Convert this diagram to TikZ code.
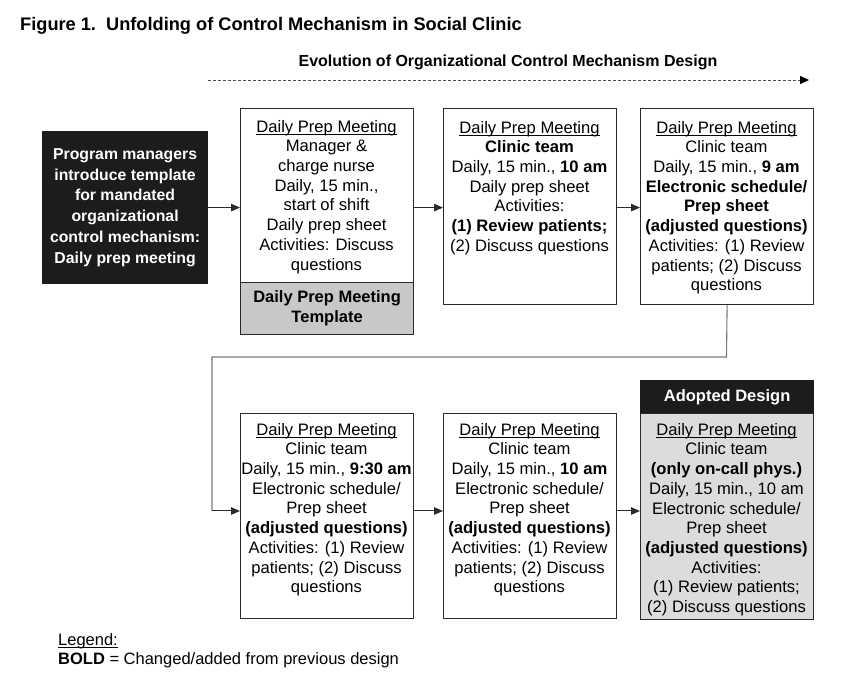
\documentclass[tikz,border=0pt]{standalone}
\usepackage{fontspec}
\setmainfont{Liberation Sans}
\usetikzlibrary{arrows.meta,calc}
\newcommand{\myul}[1]{\setbox0=\hbox{#1}\rlap{\rule[-2.6pt]{\wd0}{0.9pt}}\box0}
\newcommand{\topstrut}{\rule{0pt}{13pt}}
\definecolor{boxdark}{HTML}{1C1C1C}
\definecolor{tplgray}{HTML}{C8C8C8}
\definecolor{adoptgray}{HTML}{DCDCDC}
\definecolor{linegray}{HTML}{7A7A7A}
\definecolor{edge}{HTML}{2A2A2A}
\begin{document}
\begin{tikzpicture}[x=1pt,y=-1pt,
  box/.style={draw=edge, line width=1.2pt, anchor=north west, inner sep=0pt},
  txt/.style={anchor=north, align=center, inner sep=0pt, font=\fontsize{16.6}{19.7}\selectfont},
  boldtxt/.style={align=center, inner sep=0pt, font=\fontsize{16.5}{20}\selectfont\bfseries},
  conn/.style={line width=1pt, edge, -{Triangle[length=9pt,width=7.5pt]}},
]
\useasboundingbox (0,0) rectangle (847,684);
\fill[white] (0,0) rectangle (847,684);

% titles
\node[anchor=base west, inner sep=0pt, font=\fontsize{18.2}{21}\selectfont\bfseries] (title) at (20,31)
  {Figure 1.\ \ Unfolding of Control Mechanism in Social Clinic};
\node[anchor=base, inner sep=0pt, font=\fontsize{16}{19}\selectfont\bfseries] (sub) at (508,67)
  {Evolution of Organizational Control Mechanism Design};
\coordinate (ds) at (208,80);
\coordinate (de) at (809,80);
\draw[line width=0.8pt, black!70, dash pattern=on 3pt off 2pt, -{Triangle[length=9pt,width=8pt,black]}] (ds) -- (de);

% black box
\node[box, fill=boxdark, draw=boxdark, minimum width=165pt, minimum height=152pt,
  text=white, font=\fontsize{15.8}{20.8}\selectfont\bfseries, align=center] (blk) at (42,131)
  {Program managers\\introduce template\\for mandated\\organizational\\control mechanism:\\Daily prep meeting};

% box 1
\node[box, minimum width=173pt, minimum height=174pt] (b1) at (240,108) {};
\node[box, fill=tplgray, minimum width=173pt, minimum height=52pt, boldtxt] (tpl) at (240,282)
  {Daily Prep Meeting\\Template};
\node[txt] (t1) at (326.5,119)
  {\topstrut\myul{Daily Prep Meeting}\\Manager \&\\charge nurse\\Daily, 15 min.,\\start of shift\\Daily prep sheet\\Activities: Discuss\\questions};

% box 2
\node[box, minimum width=173pt, minimum height=196pt] (b2) at (443,108) {};
\node[txt] (t2) at (529.5,120)
  {\topstrut\myul{Daily Prep Meeting}\\\textbf{Clinic team}\\Daily, 15 min., \textbf{10 am}\\Daily prep sheet\\Activities:\\\textbf{(1) Review patients;}\\(2) Discuss questions};

% box 3
\node[box, minimum width=173pt, minimum height=196pt] (b3) at (640,108) {};
\node[txt] (t3) at (726.5,120)
  {\topstrut\myul{Daily Prep Meeting}\\Clinic team\\Daily, 15 min., \textbf{9 am}\\\textbf{Electronic schedule/}\\\textbf{Prep sheet}\\\textbf{(adjusted questions)}\\Activities: (1) Review\\patients; (2) Discuss\\questions};

% box 4
\node[box, minimum width=173pt, minimum height=205pt] (b4) at (240,413) {};
\node[txt] (t4) at (326.5,422)
  {\topstrut\myul{Daily Prep Meeting}\\Clinic team\\Daily, 15 min., \textbf{9:30 am}\\Electronic schedule/\\Prep sheet\\\textbf{(adjusted questions)}\\Activities: (1) Review\\patients; (2) Discuss\\questions};

% box 5
\node[box, minimum width=173pt, minimum height=205pt] (b5) at (443,413) {};
\node[txt] (t5) at (529.5,422)
  {\topstrut\myul{Daily Prep Meeting}\\Clinic team\\Daily, 15 min., \textbf{10 am}\\Electronic schedule/\\Prep sheet\\\textbf{(adjusted questions)}\\Activities: (1) Review\\patients; (2) Discuss\\questions};

% box 6 (adopted)
\node[box, fill=boxdark, draw=boxdark, minimum width=173pt, minimum height=33pt, boldtxt, text=white] (hdr) at (640,380)
  {Adopted Design};
\node[box, fill=adoptgray, minimum width=173pt, minimum height=206pt] (b6) at (640,413) {};
\node[txt] (t6) at (726.5,422)
  {\topstrut\myul{Daily Prep Meeting}\\Clinic team\\\textbf{(only on-call phys.)}\\Daily, 15 min., 10 am\\Electronic schedule/\\Prep sheet\\\textbf{(adjusted questions)}\\Activities:\\(1) Review patients;\\(2) Discuss questions};

% connectors
\draw[conn] (blk.east) -- (blk.east -| b1.west);
\draw[conn] (b1.east |- blk.east) -- (b1.east |- blk.east -| b2.west);
\draw[conn] (b2.east |- blk.east) -- (b2.east |- blk.east -| b3.west);
\coordinate (k1) at (726.5,357);
\coordinate (k2) at (212,357);
\draw[line width=1.1pt, linegray] (b3.south) -- (k1) -- (k2) -- (k2 |- 0,511);
\draw[conn] (k2 |- 0,511) -- (b4.west |- 0,511);
\draw[conn] (b4.east |- 0,511) -- (b5.west |- 0,511);
\draw[conn] (b5.east |- 0,511) -- (b6.west |- 0,511);

% legend
\node[anchor=base west, inner sep=0pt, font=\fontsize{16.5}{19.7}\selectfont] (lg1) at (58,645) {\myul{Legend:}};
\node[anchor=base west, inner sep=0pt, font=\fontsize{16.5}{19.7}\selectfont] (lg2) at (58,664) {\textbf{BOLD} = Changed/added from previous design};
\end{tikzpicture}
\end{document}
